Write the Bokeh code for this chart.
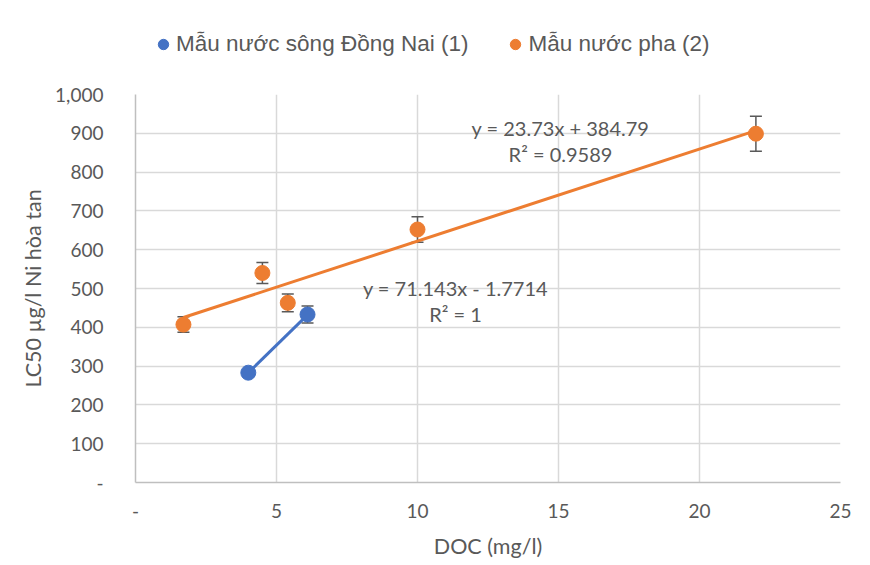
from bokeh.plotting import figure
from bokeh.layouts import column
from bokeh.models import (ColumnDataSource, Whisker, Legend, LegendItem, Label,
                          CustomJSTickFormatter, FixedTicker, Range1d)
from bokeh.embed import file_html
from bokeh.resources import INLINE

# ---- data ----
series_names = ["Mẫu nước sông Đồng Nai (1)", "Mẫu nước pha (2)"]
river_doc = [4.0, 6.1]
river_lc50 = [283, 433]
river_err = [6, 22]
mix_doc = [1.7, 4.5, 5.4, 10.0, 22.0]
mix_lc50 = [407, 540, 463, 652, 899]
mix_err = [20, 27, 23, 33, 45]
river_fit = (71.143, -1.7714)
mix_fit = (23.73, 384.79)
river_eq = ["y = 71.143x - 1.7714", "R² = 1"]
mix_eq = ["y = 23.73x + 384.79", "R² = 0.9589"]
x_ticks = [0, 5, 10, 15, 20, 25]
y_ticks = [0, 100, 200, 300, 400, 500, 600, 700, 800, 900, 1000]

BLUE = "#4472C4"
ORANGE = "#ED7D31"
TXT = "#595959"
GRID = "#D9D9D9"
TICKFONT = "Lato"
W = 862
LEG_H = 80

# ---------- legend strip ----------
leg = figure(width=W, height=LEG_H, output_backend="svg", toolbar_location=None,
             x_range=Range1d(0, 1), y_range=Range1d(0, 1),
             x_axis_type=None, y_axis_type=None,
             min_border_left=0, min_border_right=0, min_border_top=0,
             min_border_bottom=0)
leg.outline_line_color = None
leg.grid.visible = False
lr1 = leg.scatter([-5], [-5], size=15, fill_color=BLUE, line_color=BLUE)
lr2 = leg.scatter([-5], [-5], size=15, fill_color=ORANGE, line_color=ORANGE)
legend = Legend(items=[LegendItem(label=series_names[0], renderers=[lr1]),
                       LegendItem(label=series_names[1], renderers=[lr2])],
                orientation="horizontal", location=(15, 22),
                label_text_font="Liberation Sans", label_text_font_size="22.5px",
                label_text_color=TXT, glyph_width=26, glyph_height=28,
                label_standoff=0, spacing=34, border_line_color=None,
                background_fill_alpha=0, padding=0, margin=0)
leg.add_layout(legend, "center")

# ---------- main plot ----------
p = figure(width=W, height=485, output_backend="svg", toolbar_location=None,
           x_range=Range1d(0, 25), y_range=Range1d(0, 1000),
           min_border_left=135, min_border_right=22, min_border_top=14,
           min_border_bottom=83)
p.outline_line_color = None

p.xaxis.ticker = FixedTicker(ticks=x_ticks)
p.yaxis.ticker = FixedTicker(ticks=y_ticks)
p.xaxis.formatter = CustomJSTickFormatter(code="return tick == 0 ? '-' : tick.toString();")
p.yaxis.formatter = CustomJSTickFormatter(
    code="return tick == 0 ? '-' : tick.toLocaleString('en-US');")
for ax in (p.xaxis, p.yaxis):
    ax.major_tick_line_color = None
    ax.minor_tick_line_color = None
    ax.axis_line_color = "#BFBFBF"
    ax.axis_line_width = 1.5
    ax.major_label_text_color = TXT
    ax.major_label_text_font = TICKFONT
    ax.major_label_text_font_size = "19px"
    ax.axis_label_text_color = TXT
    ax.axis_label_text_font = TICKFONT
    ax.axis_label_text_font_size = "21.5px"
    ax.axis_label_text_font_style = "normal"
p.xaxis.axis_label = "DOC (mg/l)"
p.yaxis.axis_label = "LC50 µg/l Ni hòa tan"
p.xaxis.major_label_standoff = 15
p.yaxis.major_label_standoff = 26
p.xaxis.axis_label_standoff = 12
p.yaxis.axis_label_standoff = 6
p.grid.grid_line_color = GRID
p.grid.grid_line_width = 1.5

# trend lines
def fit_line(xs, fit):
    x0, x1 = min(xs), max(xs)
    return [x0, x1], [fit[0] * x0 + fit[1], fit[0] * x1 + fit[1]]

fx, fy = fit_line(mix_doc, mix_fit)
p.line(fx, fy, line_color=ORANGE, line_width=3)
bx, by = fit_line(river_doc, river_fit)
p.line(bx, by, line_color=BLUE, line_width=3)

# error bars
for xs, ys, es in ((river_doc, river_lc50, river_err), (mix_doc, mix_lc50, mix_err)):
    src = ColumnDataSource(dict(x=xs, lo=[y - e for y, e in zip(ys, es)],
                                hi=[y + e for y, e in zip(ys, es)]))
    w = Whisker(source=src, base="x", lower="lo", upper="hi", line_color=TXT,
                line_width=1.5)
    for h in (w.upper_head, w.lower_head):
        h.size = 12
        h.line_color = TXT
        h.line_width = 1.5
    p.add_layout(w)

p.scatter(river_doc, river_lc50, size=15, fill_color=BLUE, line_color=BLUE)
p.scatter(mix_doc, mix_lc50, size=15, fill_color=ORANGE, line_color=ORANGE)

# equation labels (screen coords relative to frame bottom-left)
def eq_labels(lines, xc, yc):
    for i, t in enumerate(lines):
        p.add_layout(Label(x=xc, y=yc - i * 26, x_units="screen", y_units="screen",
                           text=t, text_align="center", text_baseline="middle",
                           text_color=TXT, text_font=TICKFONT, text_font_size="20px"))

eq_labels(mix_eq, 560 - 135, 482 - 127)
eq_labels(river_eq, 455 - 135, 482 - 287)

layout = column(leg, p, spacing=0)
open("out.html", "w").write(file_html(layout, INLINE))
